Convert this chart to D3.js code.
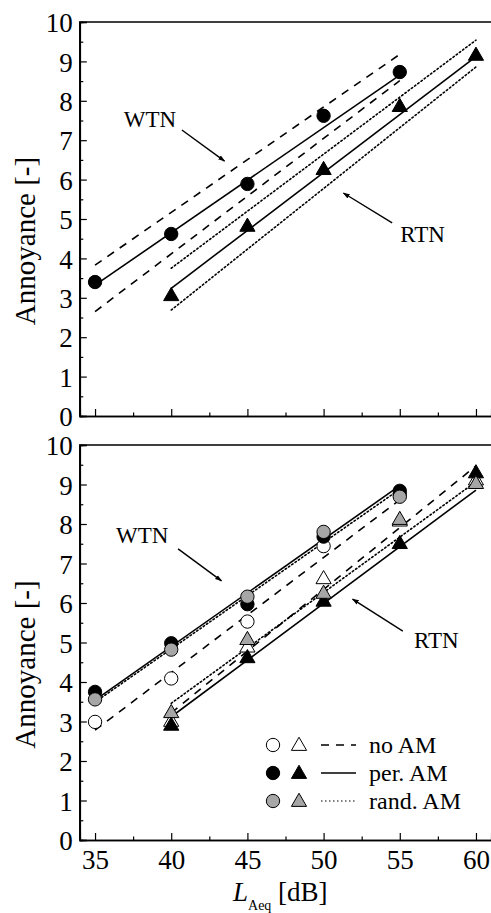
<!DOCTYPE html>
<html>
<head>
<meta charset="utf-8">
<script src="https://cdn.jsdelivr.net/npm/d3@7"></script>
<style>
  body { margin: 0; background: #fff; }
  svg, svg text { font-family: "Liberation Serif", "Times New Roman", Times, serif; }
</style>
</head>
<body>
<div id="chart"></div>
<script>
// levels (dB)
var levelsWTN = [35, 40, 45, 50, 55];
var levelsRTN = [40, 45, 50, 55, 60];
var xTicks = [35, 40, 45, 50, 55, 60];

// top panel: mean annoyance + regression with confidence band
var topWTN = [3.40, 4.62, 5.89, 7.62, 8.73];
var topRTN = [3.04, 4.80, 6.24, 7.84, 9.14];
var topWTNFit = [3.32, 8.65], topWTNHi = [3.83, 9.18], topWTNLo = [2.65, 8.51];
var topRTNFit = [3.24, 9.12], topRTNHi = [3.75, 9.54], topRTNLo = [2.69, 8.86];

// bottom panel: per AM condition
var botWTNno   = [2.99, 4.09, 5.53, 7.44, 8.75];
var botWTNper  = [3.75, 4.98, 5.97, 7.68, 8.84];
var botWTNrand = [3.56, 4.82, 6.16, 7.80, 8.69];
var botRTNno   = [2.99, 4.87, 6.60, 8.06, 9.10];
var botRTNper  = [2.89, 4.60, 6.03, 7.49, 9.28];
var botRTNrand = [3.21, 5.06, 6.23, 8.10, 9.01];
var botWTNFitNo = [2.78, 8.61], botWTNFitPer = [3.54, 8.97], botWTNFitRand = [3.49, 8.88];
var botRTNFitNo = [3.22, 9.47], botRTNFitPer = [3.12, 8.86], botRTNFitRand = [3.46, 9.07];

var legendLabels = ["no AM", "per. AM", "rand. AM"];
var fills = ["#fff", "#000", "#a6a6a6"];
var dashes = ["8,7", null, "1.5,2.5"];

var W = 491, H = 913;
var svg = d3.select("#chart").append("svg").attr("width", W).attr("height", H);

var x = d3.scaleLinear().domain([34, 61]).range([79.8, 491.2]);

var defs = svg.append("defs");
defs.append("marker").attr("id", "ah")
  .attr("viewBox", "0 0 10 10").attr("refX", 9).attr("refY", 5)
  .attr("markerWidth", 5).attr("markerHeight", 5).attr("orient", "auto")
  .append("path").attr("d", "M0,1.5L10,5L0,8.5Z").attr("fill", "#000");

function panel(top, bottom, showLabels) {
  var y = d3.scaleLinear().domain([0, 10]).range([bottom, top]);
  var g = svg.append("g");

  // frame
  g.append("path")
    .attr("d", "M" + x(34) + "," + y(0) + "V" + y(10) + "H" + (W + 5))
    .attr("fill", "none").attr("stroke", "#000").attr("stroke-width", 1.5);

  var xa = g.append("g").attr("transform", "translate(0," + y(0) + ")")
    .call(d3.axisBottom(x).tickValues(xTicks).tickSize(-7).tickPadding(5)
      .tickFormat(showLabels ? d3.format("d") : ""));
  g.append("g").attr("transform", "translate(0," + y(0) + ")")
    .call(d3.axisBottom(x).tickValues([37.5, 42.5, 47.5, 52.5, 57.5]).tickSize(-3.5).tickFormat(""));
  var ya = g.append("g").attr("transform", "translate(" + x(34) + ",0)")
    .call(d3.axisLeft(y).tickValues(d3.range(0, 11)).tickSize(-7).tickPadding(7));
  g.append("g").attr("transform", "translate(" + x(34) + ",0)")
    .call(d3.axisLeft(y).tickValues(d3.range(0.5, 10, 1)).tickSize(-3.5).tickFormat(""));

  g.selectAll("g").attr("font-family", null);
  g.selectAll(".domain").attr("stroke", "#000").attr("stroke-width", 1.5);
  g.selectAll(".tick line").attr("stroke", "#000").attr("stroke-width", 1.2);
  g.selectAll(".tick text").attr("fill", "#000").style("font-size", "27px");
  ya.selectAll(".tick text").attr("dy", "0.36em");
  xa.selectAll(".tick text").attr("dy", "0.9em");

  g.append("text")
    .attr("transform", "translate(35," + (y(5) + 22) + ") rotate(-90)")
    .attr("text-anchor", "middle")
    .style("font-size", "29px")
    .text("Annoyance [-]");
  return { g: g, y: y };
}

function fitLine(p, xs, ys, dash) {
  p.g.append("line")
    .attr("x1", x(xs[0])).attr("y1", p.y(ys[0]))
    .attr("x2", x(xs[1])).attr("y2", p.y(ys[1]))
    .attr("stroke", "#000").attr("stroke-width", 1.6)
    .attr("stroke-dasharray", dash)
    .attr("stroke-linecap", dash && dash[0] === "1" ? "round" : "butt");
}

var circle = d3.symbol().type(d3.symbolCircle).size(140);
var tri = d3.symbol().type(d3.symbolTriangle).size(100);

function points(p, xs, vals, sym, fill) {
  p.g.selectAll(null).data(vals).enter().append("path")
    .attr("d", sym)
    .attr("transform", function (d, i) { return "translate(" + x(xs[i]) + "," + p.y(d) + ")"; })
    .attr("fill", fill).attr("stroke", "#000").attr("stroke-width", 1);
}

function note(p, label, tx, ty, a0, a1) {
  p.g.append("text").attr("x", x(tx)).attr("y", p.y(ty))
    .attr("text-anchor", "middle").style("font-size", "23px").text(label);
  p.g.append("line")
    .attr("x1", x(a0[0])).attr("y1", p.y(a0[1]))
    .attr("x2", x(a1[0])).attr("y2", p.y(a1[1]))
    .attr("stroke", "#000").attr("stroke-width", 1.4)
    .attr("marker-end", "url(#ah)");
}

var ends = [35, 55], endsR = [40, 60];

// ---- top panel
var p1 = panel(22, 416, false);
fitLine(p1, ends, topWTNHi, dashes[0]);
fitLine(p1, ends, topWTNLo, dashes[0]);
fitLine(p1, ends, topWTNFit, null);
fitLine(p1, endsR, topRTNHi, dashes[2]);
fitLine(p1, endsR, topRTNLo, dashes[2]);
fitLine(p1, endsR, topRTNFit, null);
points(p1, levelsWTN, topWTN, circle, "#000");
points(p1, levelsRTN, topRTN, tri, "#000");
note(p1, "WTN", 38.6, 7.33, [40.7, 7.26], [43.5, 6.47]);
note(p1, "RTN", 56.5, 4.42, [54.5, 4.90], [51.3, 5.66]);

// ---- bottom panel
var p2 = panel(445, 840, true);
fitLine(p2, ends, botWTNFitNo, dashes[0]);
fitLine(p2, ends, botWTNFitRand, dashes[2]);
fitLine(p2, ends, botWTNFitPer, null);
fitLine(p2, endsR, botRTNFitNo, dashes[0]);
fitLine(p2, endsR, botRTNFitRand, dashes[2]);
fitLine(p2, endsR, botRTNFitPer, null);
[botWTNno, botWTNper, botWTNrand].forEach(function (v, i) { points(p2, levelsWTN, v, circle, fills[i]); });
[botRTNno, botRTNper, botRTNrand].forEach(function (v, i) { points(p2, levelsRTN, v, tri, fills[i]); });
note(p2, "WTN", 38.1, 7.52, [40.45, 7.37], [43.3, 6.56]);
note(p2, "RTN", 57.4, 4.86, [55.2, 5.29], [51.9, 6.10]);

// legend
var leg = p2.g.append("g");
legendLabels.forEach(function (lab, i) {
  var yy = 745 + i * 28;
  leg.append("path").attr("d", circle).attr("transform", "translate(273," + yy + ")")
    .attr("fill", fills[i]).attr("stroke", "#000");
  leg.append("path").attr("d", tri).attr("transform", "translate(299," + (yy + 1) + ")")
    .attr("fill", fills[i]).attr("stroke", "#000");
  leg.append("line").attr("x1", 321).attr("x2", 356).attr("y1", yy).attr("y2", yy)
    .attr("stroke", "#000").attr("stroke-width", dashes[i] && dashes[i][0] === "1" ? 1.2 : 1.6)
    .attr("stroke-dasharray", dashes[i]);
  leg.append("text").attr("x", 369).attr("y", yy + 8).style("font-size", "24px").text(lab);
});

// x label
var xl = svg.append("text").attr("x", 233).attr("y", 901).style("font-size", "27px");
xl.append("tspan").style("font-style", "italic").text("L");
xl.append("tspan").attr("dy", 9).style("font-size", "14px").text("Aeq");
xl.append("tspan").attr("dy", -9).text(" [dB]");
</script>
</body>
</html>
